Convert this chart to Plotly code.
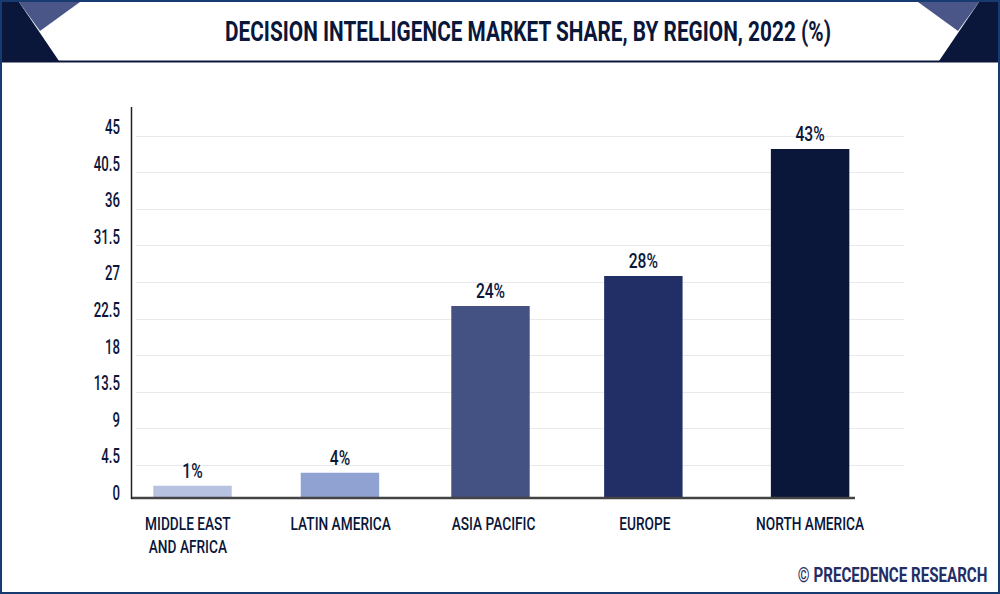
import plotly.graph_objects as go

regions = ["MIDDLE EAST<br>AND AFRICA", "LATIN AMERICA", "ASIA PACIFIC", "EUROPE", "NORTH AMERICA"]
bar_heights = [1.5, 3.1, 23.6, 27.3, 42.9]
bar_labels = ["1%", "4%", "24%", "28%", "43%"]
bar_slots = [0.0, 0.955, 1.93, 2.92, 4.0]
label_slots = [-0.03, 0.96, 1.95, 2.93, 4.0]
bar_colors = ["#b7c2e0", "#8fa2d2", "#445183", "#222e66", "#0a163a"]
y_ticks = [0, 4.5, 9, 13.5, 18, 22.5, 27, 31.5, 36, 40.5, 45]
y_tick_text = ["0", "4.5", "9", "13.5", "18", "22.5", "27", "31.5", "36", "40.5", "45"]

W, H = 1000, 594
NAVY = "#0a163a"
FONT = "Roboto"

def px(x): return x / W
def py(y): return 1 - y / H
def poly(points, color):
    path = "M " + " L ".join(f"{px(a):.4f},{py(b):.4f}" for a, b in points) + " Z"
    return dict(type="path", xref="paper", yref="paper", path=path, fillcolor=color, line_width=0, layer="above")

top, bottom = 107, 503
left, right = 136, 904
scale = 36.6 / 4.5
slot_px = 154.4
x0 = (left - 192.5) / slot_px
x1 = (right - 192.5) / slot_px

fig = go.Figure()
# carries the gridded, labelled axis underneath the bars
fig.add_trace(go.Scatter(x=[bar_slots[0]] * len(y_ticks), y=y_ticks, mode="markers",
                         marker=dict(opacity=0), hoverinfo="skip"))
fig.add_trace(go.Bar(
    x=bar_slots, y=bar_heights, yaxis="y2", width=0.508,
    marker=dict(color=bar_colors, line_width=0),
    text=bar_labels, textposition="outside", cliponaxis=False,
    textfont=dict(family=FONT, size=20, color=NAVY, weight=500),
    hoverinfo="skip",
))

shapes = [
    poly([(0, 2), (19, 2), (59, 61), (0, 61)], NAVY),
    poly([(19, 2), (80, 2), (40, 31)], "#4a5688"),
    poly([(1000, 2), (979, 2), (939, 61), (1000, 61)], NAVY),
    poly([(979, 2), (918, 2), (958, 31)], "#4a5688"),
    dict(type="line", xref="paper", yref="paper", x0=0, x1=1, y0=py(61.5), y1=py(61.5), line=dict(color=NAVY, width=2)),
    dict(type="line", xref="paper", yref="y2", x0=px(131), x1=px(855), y0=0, y1=0, line=dict(color="#444444", width=2.5), layer="above"),
    dict(type="line", xref="paper", yref="paper", x0=px(131.5), x1=px(131.5), y0=py(107), y1=py(499), line=dict(color="#222222", width=1.5)),
    dict(type="rect", xref="paper", yref="paper", x0=px(1), x1=px(999), y0=py(1), y1=py(593), line=dict(color="#173a70", width=2), fillcolor="rgba(0,0,0,0)", layer="above"),
]

fig.update_layout(
    width=W, height=H, autosize=False,
    margin=dict(l=0, r=0, t=0, b=0, autoexpand=False),
    paper_bgcolor="white", plot_bgcolor="white", showlegend=False,
    title=dict(text="DECISION INTELLIGENCE MARKET SHARE, BY REGION, 2022 (%)",
               x=px(528), xanchor="center", y=py(32), yanchor="middle", automargin=False,
               font=dict(family=FONT, size=27, color=NAVY, weight=700)),
    xaxis=dict(domain=[px(left), px(right)], range=[x0, x1], tickmode="array", automargin=False,
               tickvals=label_slots, ticktext=regions, showgrid=False, zeroline=False,
               showline=False, ticks="", ticklabelstandoff=8,
               tickfont=dict(family=FONT, size=18, color=NAVY, weight=500)),
    yaxis=dict(domain=[py(bottom), py(top)], range=[(502 - bottom) / scale, (502 - top) / scale],
               tickmode="array", tickvals=y_ticks, ticktext=y_tick_text, automargin=False,
               showgrid=True, gridcolor="#e9e9ec", gridwidth=1, zeroline=False, showline=False,
               ticks="", ticklabelstandoff=15, ticklabelshift=-9,
               tickfont=dict(family=FONT, size=20, color=NAVY, weight=500)),
    yaxis2=dict(overlaying="y", range=[(498 - bottom) / scale, (498 - top) / scale], automargin=False,
                showgrid=False, zeroline=False, showticklabels=False, ticks=""),
    shapes=shapes,
    annotations=[dict(text="© PRECEDENCE RESEARCH", xref="paper", yref="paper",
                      x=px(892.5), y=py(575), xanchor="center", yanchor="middle", showarrow=False,
                      font=dict(family=FONT, size=21, color="#232e66", weight=700))],
)

# The reference uses a condensed display face; none is installed, so narrow the real text.
condense = """
document.body.style.margin='0';
var factors = [['.gtitle',0.77],['.xtick text',0.76],['.ytick text',0.66],['.bartext',0.78],['.annotation-text',0.72]];
factors.forEach(function(pair){
  document.querySelectorAll(pair[0]).forEach(function(t){
    var lines = t.querySelectorAll('tspan.line');
    var items = lines.length ? Array.from(lines) : [t];
    items.forEach(function(el){
      var n = el.getComputedTextLength();
      if (n > 0) { el.setAttribute('textLength', n * pair[1]); el.setAttribute('lengthAdjust', 'spacingAndGlyphs'); }
    });
  });
});
"""
fig.write_html("out.html", config=dict(displayModeBar=False), post_script=condense)
